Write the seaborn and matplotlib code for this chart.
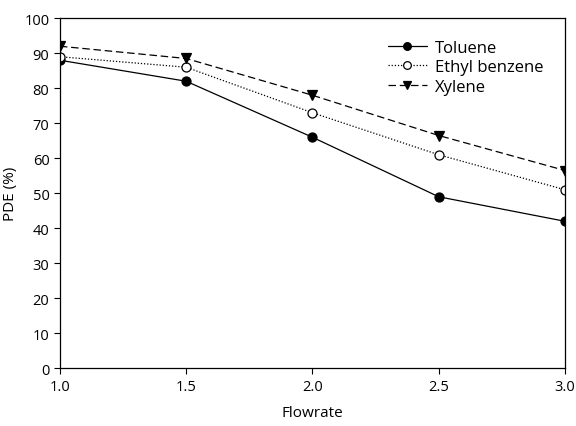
import matplotlib
matplotlib.use("Agg")
import matplotlib.pyplot as plt
import seaborn as sns
import pandas as pd

flowrate = [1.0, 1.5, 2.0, 2.5, 3.0]
toluene = [88, 82, 66, 49, 42]
ethyl_benzene = [89, 86, 73, 61, 51]
xylene = [92, 88.5, 78, 66.5, 56.5]

sns.set_style("ticks")
plt.rcParams['font.family'] = ['Open Sans', 'DejaVu Sans']
plt.rcParams.update({"text.color": "black", "axes.labelcolor": "black",
                     "xtick.color": "black", "ytick.color": "black",
                     "axes.edgecolor": "black"})

df = pd.DataFrame({
    "Flowrate": flowrate * 3,
    "PDE": toluene + ethyl_benzene + xylene,
    "Series": ["Toluene"] * 5 + ["Ethyl benzene"] * 5 + ["Xylene"] * 5,
})

fig, ax = plt.subplots(figsize=(5.76, 4.27), dpi=100)
styles = {
    "Toluene": dict(ls="-", marker="o", mfc="black"),
    "Ethyl benzene": dict(ls=(0, (1, 1.5)), marker="o", mfc="white"),
    "Xylene": dict(ls=(0, (6, 3)), marker="v", mfc="black"),
}
for name in ["Toluene", "Ethyl benzene", "Xylene"]:
    sub = df[df["Series"] == name]
    s = styles[name]
    sns.lineplot(data=sub, x="Flowrate", y="PDE", ax=ax, color="black",
                 linewidth=0.9, linestyle=s["ls"], marker=s["marker"],
                 markersize=6.5, markerfacecolor=s["mfc"], markeredgecolor="black",
                 markeredgewidth=0.9, label=name)

ax.set_xlim(1.0, 3.0)
ax.set_ylim(0, 100)
ax.set_xticks([1.0, 1.5, 2.0, 2.5, 3.0])
ax.set_xticklabels(["1.0", "1.5", "2.0", "2.5", "3.0"])
ax.set_yticks(range(0, 101, 10))
ax.set_xlabel("Flowrate", fontsize=11, labelpad=8)
ax.set_ylabel("PDE (%)", fontsize=11)
ax.yaxis.set_label_coords(-0.083, 0.5)
ax.tick_params(labelsize=10.5, direction="out", length=4, width=0.8)
for sp in ax.spines.values():
    sp.set_visible(True)
    sp.set_linewidth(0.9)
leg = ax.legend(loc="upper right", frameon=False, fontsize=12,
                handlelength=2.3, borderaxespad=0.9, labelspacing=0.2,
                handletextpad=0.5, markerscale=0.85)
fig.subplots_adjust(left=0.104, right=0.981, top=0.955, bottom=0.135)
fig.savefig("out.png", dpi=100)
